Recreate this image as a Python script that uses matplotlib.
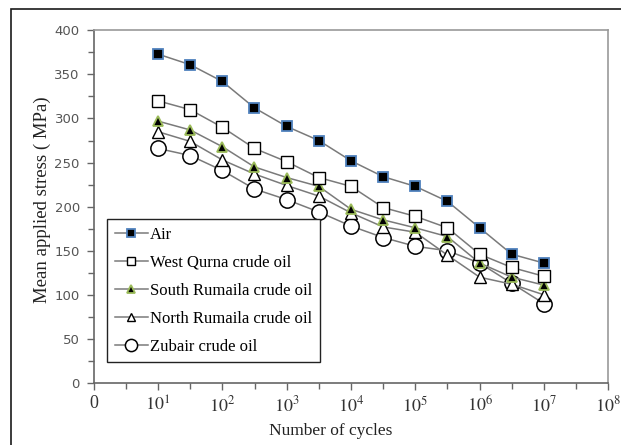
import matplotlib
matplotlib.use("Agg")
import matplotlib.pyplot as plt
from matplotlib.ticker import FixedLocator, NullFormatter
from matplotlib.patches import Rectangle

plt.rcParams['mathtext.fontset'] = 'stix'

cycles = [1e1, 3.16e1, 1e2, 3.16e2, 1e3, 3.16e3, 1e4, 3.16e4, 1e5, 3.16e5, 1e6, 3.16e6, 1e7]
air = [373, 361, 342, 312, 291, 275, 252, 234, 223, 206, 176, 146, 136]
west_qurna = [320, 310, 290, 266, 251, 233, 223, 199, 189, 176, 146, 131, 121]
south_rumaila = [297, 287, 268, 245, 233, 223, 197, 185, 176, 166, 136, 120, 111]
north_rumaila = [285, 274, 253, 237, 224, 212, 193, 177, 171, 145, 120, 112, 100]
zubair = [266, 258, 241, 220, 208, 194, 178, 165, 155, 150, 136, 113, 90]

x_ticks = [1e0, 1e1, 1e2, 1e3, 1e4, 1e5, 1e6, 1e7, 1e8]
x_ticklabels = ['0', r'$10^{1}$', r'$10^{2}$', r'$10^{3}$', r'$10^{4}$',
                r'$10^{5}$', r'$10^{6}$', r'$10^{7}$', r'$10^{8}$']
y_ticks = [0, 50, 100, 150, 200, 250, 300, 350, 400]

W, H = 621, 445
fig = plt.figure(figsize=(W / 100, H / 100), dpi=100)
ax = fig.add_axes([93.7 / W, 1 - 383 / H, (608.3 - 93.7) / W, (383 - 30.3) / H])

# outer chart border
fig.patches.append(Rectangle((11 / W, -0.05), 1.2, 1 - 9 / H + 0.05,
                             transform=fig.transFigure, fill=False,
                             edgecolor='#1a1a1a', linewidth=1.2, zorder=0))

lc = '#7a7a7a'
lw = 1.1
series = [
    ('Zubair crude oil', zubair, dict(marker='o', ms=11, mfc='white', mec='black', mew=1.1)),
    ('North Rumaila crude oil', north_rumaila, dict(marker='^', ms=8, mfc='white', mec='black', mew=1.0)),
    ('South Rumaila crude oil', south_rumaila, dict(marker='^', ms=7.5, mfc='black', mec='#9bbb59', mew=1.3)),
    ('West Qurna crude oil', west_qurna, dict(marker='s', ms=8, mfc='white', mec='black', mew=1.0)),
    ('Air', air, dict(marker='s', ms=7.5, mfc='black', mec='#4f81bd', mew=1.3)),
]
handles = {}
for i, (name, vals, st) in enumerate(series):
    h, = ax.plot(cycles, vals, color=lc, lw=lw, label=name, zorder=3 + i, **st)
    handles[name] = h

ax.set_xscale('log')
ax.set_xlim(1, 1e8)
ax.set_ylim(0, 400)
ax.xaxis.set_major_locator(FixedLocator(x_ticks))
ax.set_xticklabels(x_ticklabels)
ax.xaxis.set_minor_locator(FixedLocator([10 ** (k + 0.5) for k in range(8)]))
ax.xaxis.set_minor_formatter(NullFormatter())
ax.yaxis.set_major_locator(FixedLocator(y_ticks))
ax.yaxis.set_minor_locator(FixedLocator([25 + 50 * k for k in range(8)]))

for lab in ax.get_xticklabels():
    lab.set_fontsize(13)
    lab.set_color('#333333')
    lab.set_family('Liberation Serif')
for lab in ax.get_yticklabels():
    lab.set_fontsize(9.5)
    lab.set_color('#555555')
    lab.set_family('DejaVu Sans')

ax.tick_params(axis='both', which='both', direction='out', color='#666666', width=1)
ax.tick_params(axis='both', which='major', length=5)
ax.tick_params(axis='both', which='minor', length=4)
ax.tick_params(axis='x', which='major', pad=4)
ax.tick_params(axis='y', which='major', pad=5)

for s in ['left', 'bottom']:
    ax.spines[s].set_color('#666666')
    ax.spines[s].set_linewidth(1.2)
for s in ['top', 'right']:
    ax.spines[s].set_color('#999999')
    ax.spines[s].set_linewidth(1.2)

fig.text(42 / W, 1 - 200 / H, 'Mean applied stress ( MPa)', rotation=90,
         ha='center', va='center', fontsize=13.5, family='Liberation Serif', color='#222222')
fig.text(331 / W, 1 - 431 / H, 'Number of cycles', ha='center', va='center',
         fontsize=12.5, family='Liberation Serif', color='#222222')

order = ['Air', 'West Qurna crude oil', 'South Rumaila crude oil',
         'North Rumaila crude oil', 'Zubair crude oil']
leg = ax.legend([handles[n] for n in order], order,
                loc='upper left', bbox_to_anchor=((107 - 93.7) / (608.3 - 93.7), (383 - 219) / (383 - 30.3)),
                prop={'family': 'Liberation Serif', 'size': 12}, frameon=True, fancybox=False,
                edgecolor='#222222', framealpha=1, handlelength=2.0, handletextpad=0.15,
                labelspacing=0.72, borderpad=0.45, borderaxespad=0, markerscale=0.8)
leg.get_frame().set_linewidth(1.0)
leg.set_zorder(20)

fig.savefig('out.png', dpi=100)
